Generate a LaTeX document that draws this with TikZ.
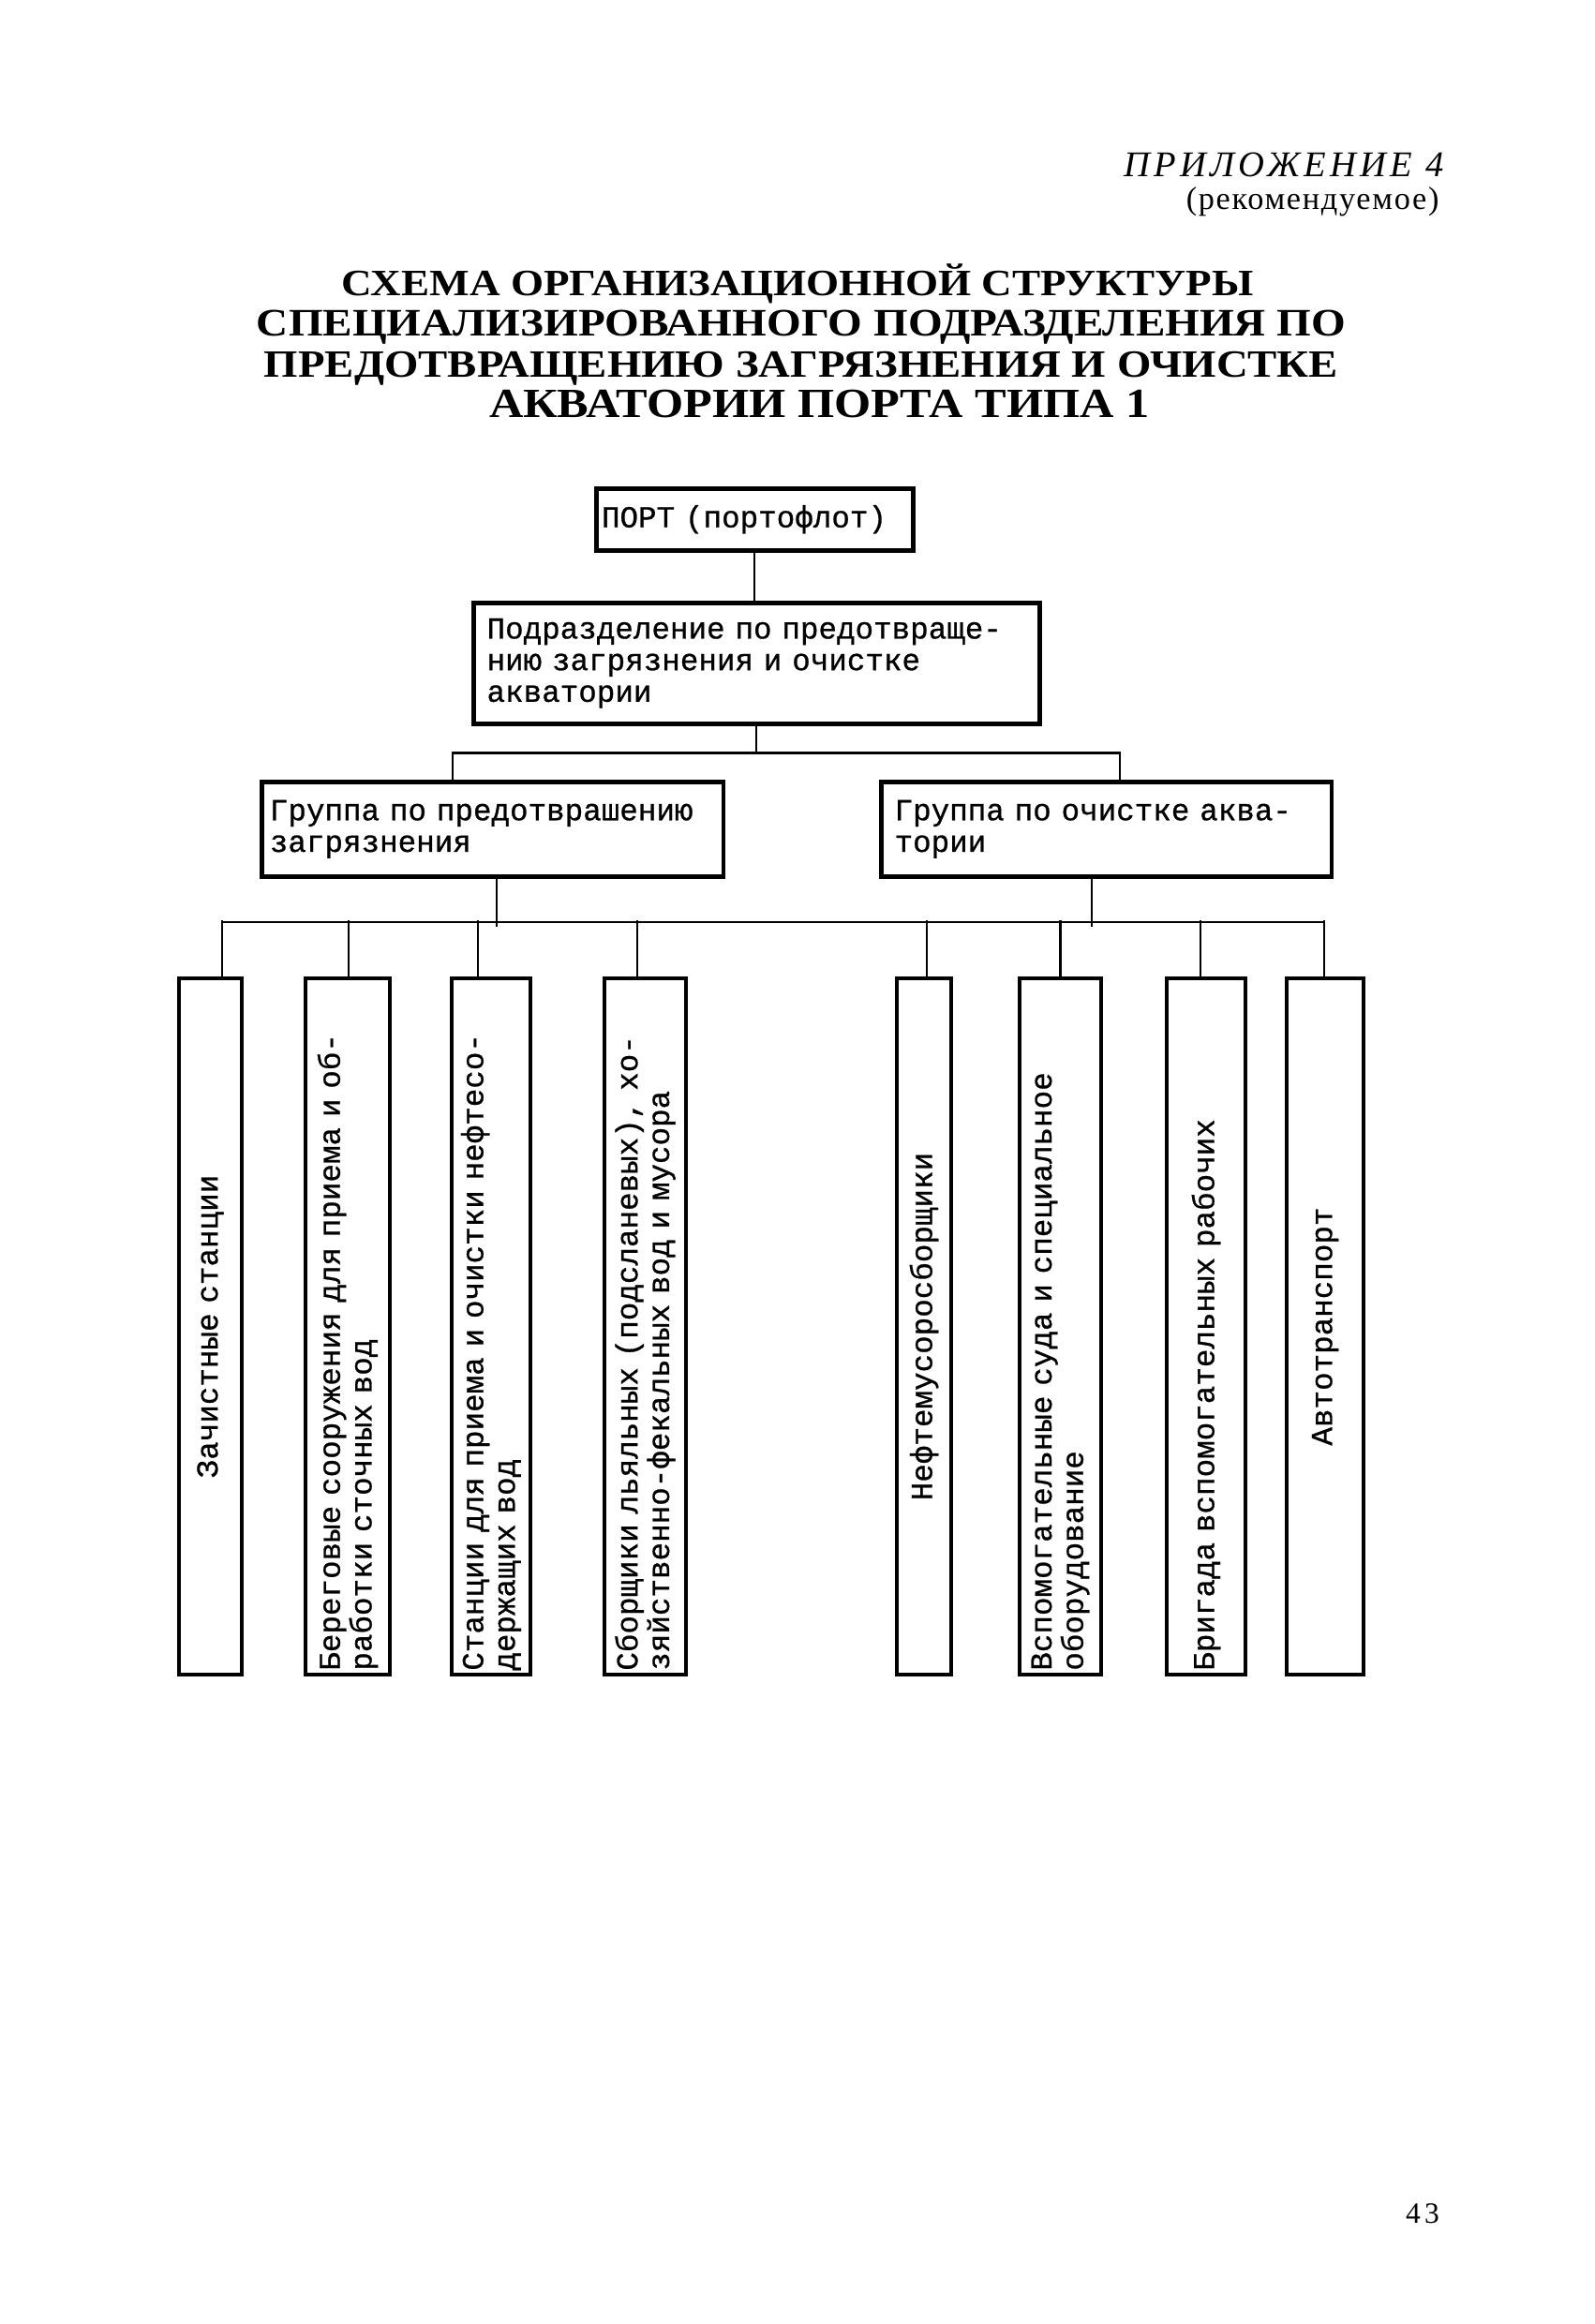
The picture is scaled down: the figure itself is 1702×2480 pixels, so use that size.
\documentclass[tikz,border=0pt]{standalone}
\usepackage{fontspec}
\setmainfont{Liberation Serif}
\newfontfamily\tw[FakeBold=0.8]{Liberation Mono}
\newfontfamily\hdr[LetterSpace=11]{Liberation Serif}
\newfontfamily\rec[LetterSpace=5]{Liberation Serif}
\usetikzlibrary{calc}
\begin{document}
\begin{tikzpicture}[x=0.35pt,y=-0.35pt,
  bx/.style={draw, line width=1.6pt, inner xsep=2pt, inner ysep=1pt,
    font=\tw\fontsize{11.4pt}{11.8pt}\selectfont, align=left},
  vbx/.style={bx, rotate=90, minimum width=260pt, inner xsep=1.5pt, text width=257pt},
  con/.style={line width=0.8pt},
  ttl/.style={font=\fontsize{17pt}{17pt}\selectfont\bfseries, inner sep=0pt, anchor=base}]
\useasboundingbox[fill=white] (0,0) rectangle (1702,2480);

% header
\node[anchor=base east, inner sep=0pt, font=\hdr\itshape\fontsize{13.5pt}{13.5pt}\selectfont] (app) at (1541,189) {ПРИЛОЖЕНИЕ 4};
\node[anchor=base east, inner sep=0pt, font=\rec\fontsize{12pt}{12pt}\selectfont] (rec) at (1536,224) {(рекомендуемое)};

% title
\node[ttl] (t1) at (851,316) {\scalebox{1}[0.88]{\resizebox{340.5pt}{!}{СХЕМА ОРГАНИЗАЦИОННОЙ СТРУКТУРЫ}}};
\node[ttl] (t2) at (855,358) {\scalebox{1}[0.88]{\resizebox{406.7pt}{!}{СПЕЦИАЛИЗИРОВАННОГО ПОДРАЗДЕЛЕНИЯ ПО}}};
\node[ttl] (t3) at (855,402) {\scalebox{1}[0.88]{\resizebox{401.1pt}{!}{ПРЕДОТВРАЩЕНИЮ ЗАГРЯЗНЕНИЯ И ОЧИСТКЕ}}};
\node[ttl] (t4) at (874.5,445) {\scalebox{1}[0.88]{\resizebox{246.7pt}{!}{АКВАТОРИИ ПОРТА ТИПА 1}}};

% upper boxes
\node[bx, anchor=north west, text width=114.3pt, minimum height=23.1pt] (port) at (634,519) {ПОРТ (портофлот)};
\node[bx, anchor=north west, inner xsep=5pt, text width=201.4pt, minimum height=45.15pt] (div) at (503,641)
  {Подразделение по предотвраще-\\нию загрязнения и очистке\\акватории};
\node[bx, anchor=north west, inner xsep=3pt, text width=166.5pt, minimum height=35.35pt] (g1) at (277,832)
  {Группа по предотврашению\\загрязнения};
\node[bx, anchor=north west, inner xsep=5pt, text width=158.3pt, minimum height=35.35pt] (g2) at (938,832)
  {Группа по очистке аква-\\тории};

% bottom boxes
\node[vbx, align=center, minimum height=23.45pt] (b1) at (224.5,1415.5) {Зачистные станции};
\node[vbx, minimum height=31.5pt] (b2) at (371,1415.5) {Береговые сооружения для приема и об-\\работки сточных вод};
\node[vbx, minimum height=29.4pt] (b3) at (524,1415.5) {Станции для приема и очистки нефтесо-\\держащих вод};
\node[vbx, minimum height=30.45pt] (b4) at (688.5,1415.5) {Сборщики льяльных (подсланевых), хо-\\зяйственно-фекальных вод и мусора};
\node[vbx, align=center, minimum height=20.3pt] (b5) at (986,1415.5) {Нефтемусоросборщики};
\node[vbx, minimum height=30.45pt] (b6) at (1131.5,1415.5) {Вспомогательные суда и специальное\\оборудование};
\node[vbx, minimum height=29.4pt] (b7) at (1287,1415.5) {Бригада вспомогательных рабочих};
\node[vbx, align=center, minimum height=28.7pt] (b8) at (1414,1415.5) {Автотранспорт};

% connectors
\draw[con] (port.south) -- (port.south |- div.north);
\coordinate (j) at ($(div.south)+(0,29)$);
\draw[con] (div.south) -- (j);
\draw[con] ($(g1.north)+(-42.5,0)$) |- (j) -| ($(g2.north)+(14.5,0)$);

\coordinate (busL) at (237,984);
\coordinate (busR) at (1413,984);
\draw[con] (busL) -- (busR);
\draw[con] ($(g1.south)+(4.5,0)$) -- ++(0,51);
\draw[con] ($(g2.south)+(-15.5,0)$) -- ++(0,51);

\draw[con] ($(b1.east)+(12.5,0)$) -- ++(0,-60);
\draw[con] ($(b2.east)+(1,0)$) -- ++(0,-60);
\draw[con] ($(b3.east)+(-14,0)$) -- ++(0,-60);
\draw[con] ($(b4.east)+(-8.5,0)$) -- ++(0,-60);
\draw[con] ($(b5.east)+(3,0)$) -- ++(0,-60);
\draw[con] ($(b6.east)+(0,0)$) -- ++(0,-60);
\draw[con] ($(b7.east)+(-6,0)$) -- ++(0,-60);
\draw[con] ($(b8.east)+(-1,0)$) -- ++(0,-60);

% page number
\node[anchor=base, inner sep=0pt, font=\fontsize{11pt}{11pt}\selectfont] (pg) at (1518,2372) {4\hspace{1.5pt}3};
\end{tikzpicture}
\end{document}
